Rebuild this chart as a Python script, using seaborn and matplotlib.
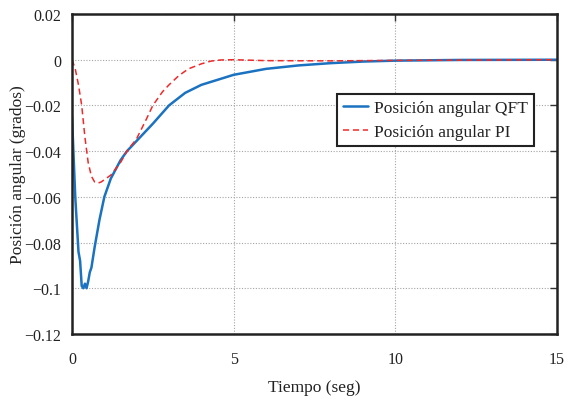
import numpy as np
import pandas as pd
import matplotlib
matplotlib.use("Agg")
import matplotlib.pyplot as plt
import seaborn as sns

# =========================================================
# DATA
# =========================================================

t_qft = [0, 0.1, 0.2, 0.25, 0.3, 0.35, 0.4, 0.45, 0.5, 0.55, 0.6, 0.7, 0.85,
         1.0, 1.2, 1.5, 1.7, 2.0, 2.5, 3.0, 3.5, 4.0, 5.0, 6.0, 7.0, 8.0,
         9.0, 10.0, 12.0, 15.0]
y_qft = [-0.025, -0.06, -0.084, -0.088, -0.099, -0.1, -0.098, -0.1, -0.097,
         -0.093, -0.091, -0.082, -0.07, -0.06, -0.052, -0.044, -0.040,
         -0.0355, -0.028, -0.020, -0.0145, -0.011, -0.0066, -0.004, -0.0025,
         -0.0015, -0.0008, -0.0004, -0.0001, 0.0]

t_pi = [0, 0.1, 0.2, 0.3, 0.4, 0.5, 0.6, 0.7, 0.8, 0.9, 1.0, 1.2, 1.5, 1.7,
        2.0, 2.3, 2.5, 2.8, 3.0, 3.3, 3.6, 4.0, 4.3, 4.6, 5.0, 6.0, 8.0,
        10.0, 15.0]
y_pi = [0, -0.004, -0.011, -0.02, -0.034, -0.045, -0.051, -0.0535, -0.054,
        -0.0535, -0.0525, -0.0505, -0.045, -0.040, -0.0345, -0.026, -0.020,
        -0.014, -0.011, -0.007, -0.004, -0.0018, -0.0006, -0.0001, 0.0,
        -0.0004, -0.0005, -0.0003, 0.0]

x_ticks = [0, 5, 10, 15]
y_ticks = [0.02, 0, -0.02, -0.04, -0.06, -0.08, -0.1, -0.12]
y_tick_labels = ["0.02", "0", "\u22120.02", "\u22120.04", "\u22120.06",
                 "\u22120.08", "\u22120.1", "\u22120.12"]

label_qft = "Posición angular QFT"
label_pi = "Posición angular PI"

# =========================================================
# PLOT
# =========================================================

sns.set_theme(style="white")
plt.rcParams['font.family'] = ['Liberation Serif', 'DejaVu Serif']

fig = plt.figure(figsize=(5.77, 4.06), dpi=100)
ax = fig.add_axes([0.1248, 0.175, 0.8405, 0.788])

sns.lineplot(x=t_qft, y=y_qft, ax=ax, color='#1a72c0', linewidth=1.8,
             label=label_qft, sort=False, estimator=None)
sns.lineplot(x=t_pi, y=y_pi, ax=ax, color='#ee2a2a', linewidth=1.1,
             linestyle=(0, (4, 2.5)), label=label_pi, sort=False, estimator=None)

ax.set_xlim(0, 15)
ax.set_ylim(-0.12, 0.02)
ax.set_xticks(x_ticks)
ax.set_xticklabels([str(v) for v in x_ticks])
ax.set_yticks(y_ticks)
ax.set_yticklabels(y_tick_labels)

ax.grid(True, color='#a5a5a5', linestyle=(0, (1, 1.5)), linewidth=0.8)
ax.tick_params(direction='in', length=5, width=1, colors='#333333',
               labelcolor='#222222', labelsize=11.5, top=True, right=True)
ax.tick_params(axis='x', pad=12)
ax.tick_params(axis='y', pad=8)
for s in ax.spines.values():
    s.set_color('#222222')
    s.set_linewidth(1.8)

ax.set_xlabel('Tiempo (seg)', fontsize=12.5, color='#222222', labelpad=9)
ax.set_ylabel('Posición angular (grados)', fontsize=12.5, color='#222222')
ax.yaxis.set_label_coords(-0.094, 0.5)

leg = ax.legend(loc='upper left', bbox_to_anchor=(0.546, 0.75), fontsize=12.5,
                frameon=True, fancybox=False, handlelength=1.45,
                handletextpad=0.35, borderpad=0.35, labelspacing=0.42,
                borderaxespad=0)
leg.get_frame().set_edgecolor('#222222')
leg.get_frame().set_linewidth(1.5)
leg.get_frame().set_alpha(1)
for txt in leg.get_texts():
    txt.set_color('#222222')

fig.savefig('out.png', dpi=100)
